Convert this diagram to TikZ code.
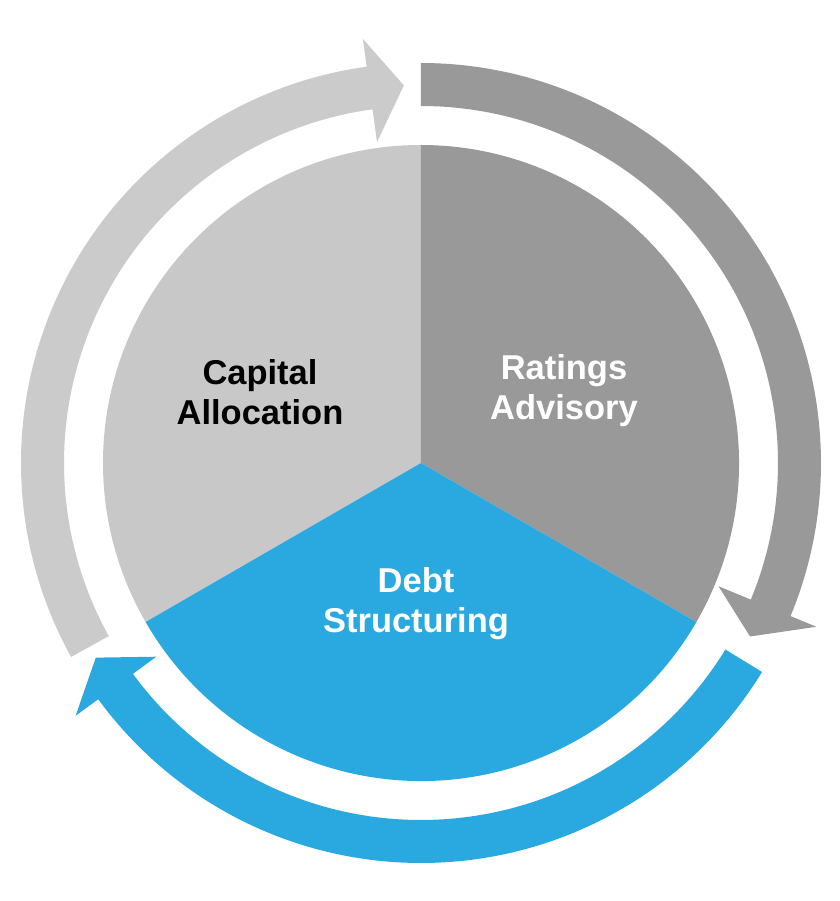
\documentclass[tikz,border=0pt]{standalone}
\usepackage{fontspec}
\setmainfont{Liberation Sans}
\begin{document}
\begin{tikzpicture}[x=1bp,y=1bp,
  lbl/.style={align=center,font=\fontsize{34.6}{40.2}\selectfont\bfseries,inner sep=0pt}]
\definecolor{pielight}{HTML}{C8C8C8}
\definecolor{arrlight}{HTML}{CBCBCB}
\definecolor{piedark}{HTML}{999999}
\definecolor{pieblue}{HTML}{29A9E0}
\useasboundingbox (-421,-438) rectangle (419,463);
\fill[white] (-421,-438) rectangle (419,463);
% pie
\fill[pielight] (0,0) -- (90:318) arc[start angle=90,end angle=210,radius=318] -- cycle;
\fill[piedark] (0,0) -- (-30:318) arc[start angle=-30,end angle=90,radius=318] -- cycle;
\fill[pieblue] (0,0) -- (210:318) arc[start angle=210,end angle=330,radius=318] -- cycle;
% ring arrows (clockwise)
\fill[arrlight] (209:400) arc[start angle=209,end angle=97.8,radius=400]
  -- (97.8:428) -- (92.6:378) -- (97.8:324) -- (97.8:357)
  arc[start angle=97.8,end angle=209,radius=357] -- cycle;
\fill[piedark] (90:400) arc[start angle=90,end angle=-22.5,radius=400]
  -- (-22.5:428) -- (-27.8:372) -- (-22.5:322) -- (-22.5:357)
  arc[start angle=-22.5,end angle=90,radius=357] -- cycle;
\fill[pieblue] (-31.5:400) arc[start angle=-31.5,end angle=-143.8,radius=400]
  -- (-143.8:428) -- (-149.1:379) -- (-143.8:328) -- (-143.8:357)
  arc[start angle=-143.8,end angle=-31.5,radius=357] -- cycle;
% labels
\node[lbl,text=black] (cap) at (-161,71) {Capital\\Allocation};
\node[lbl,text=white] (rat) at (143,72) {Ratings\\Advisory};
\node[lbl,text=white] (debt) at (-5,-141) {Debt\\Structuring};
\end{tikzpicture}
\end{document}
